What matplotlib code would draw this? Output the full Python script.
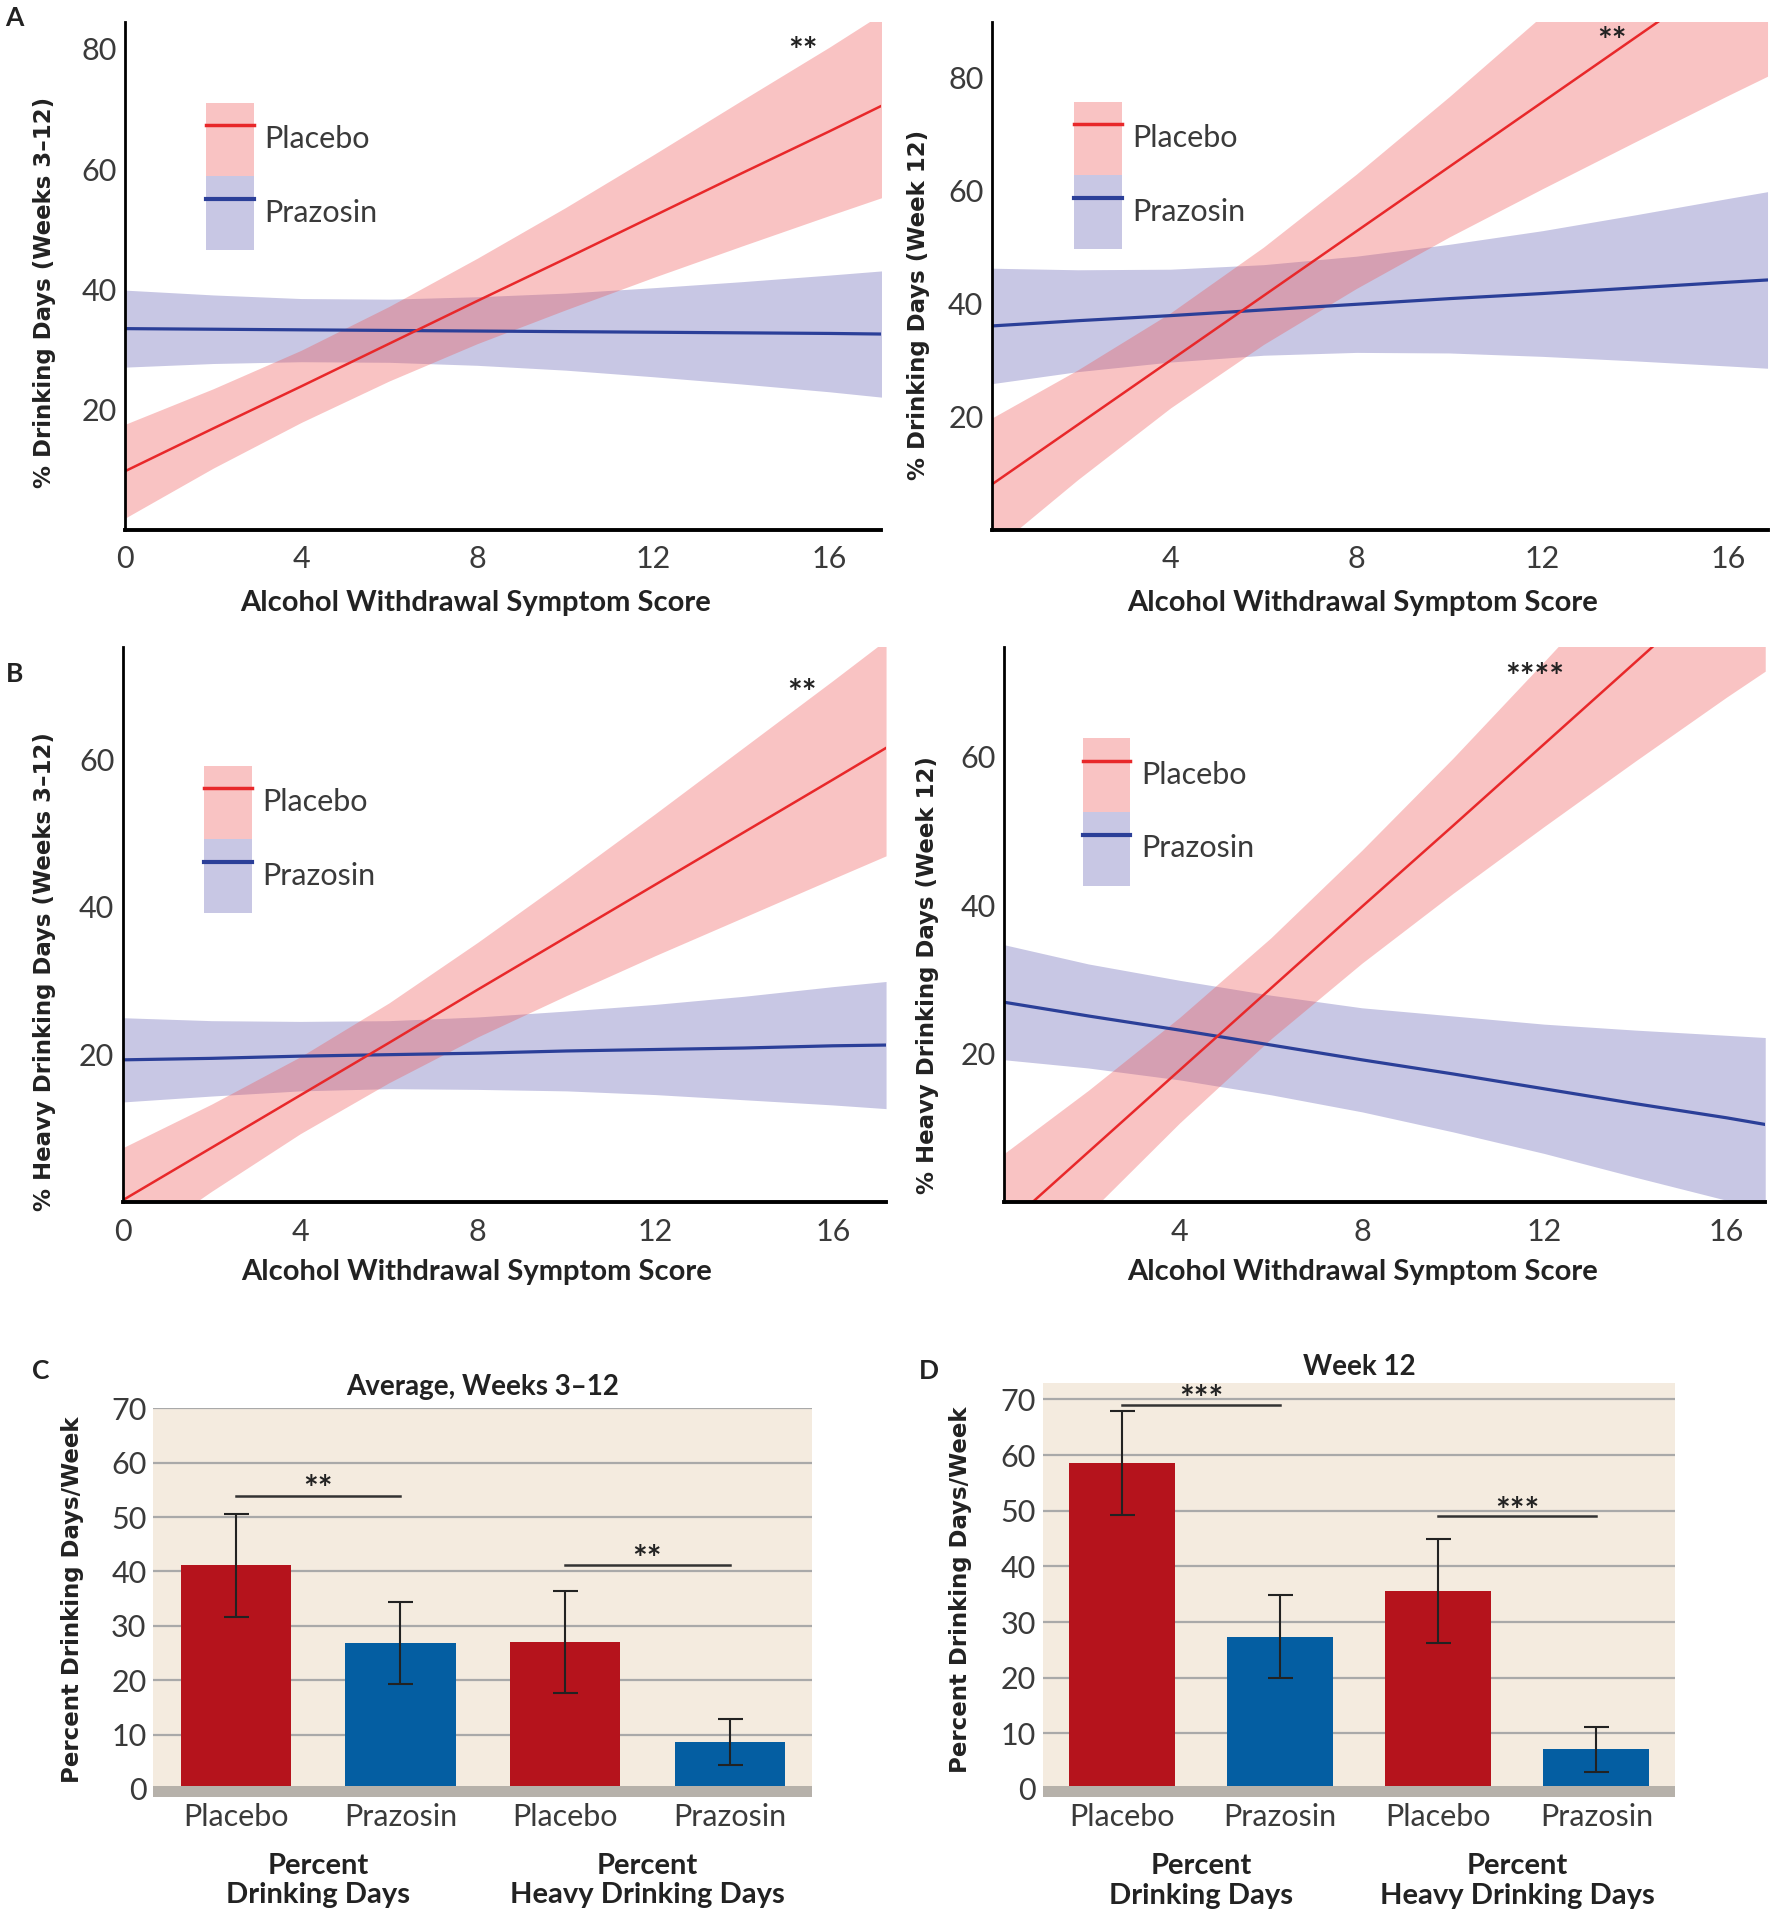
import matplotlib
matplotlib.use("Agg")
import matplotlib.pyplot as plt
from matplotlib.patches import Patch
from matplotlib.lines import Line2D

# values
# regression panels: fitted line and 95% band for each group
x_a1 = [0, 2, 4, 6, 8, 10, 12, 14, 16, 17.2]
x_a2 = [0, 2, 4, 6, 8, 10, 12, 14, 16, 16.85]

a1_plac_fit = [9.8, 16.9, 23.9, 31.0, 38.1, 45.1, 52.2, 59.3, 66.3, 70.6]
a1_plac_lo = [2.0, 10.3, 17.9, 24.8, 31.0, 36.6, 42.0, 47.2, 52.3, 55.3]
a1_plac_hi = [17.6, 23.5, 29.9, 37.2, 45.2, 53.6, 62.4, 71.4, 80.3, 85.9]
a1_praz_fit = [33.5, 33.4, 33.3, 33.2, 33.1, 33.0, 32.9, 32.8, 32.7, 32.6]
a1_praz_lo = [27.1, 27.7, 28.0, 27.9, 27.4, 26.6, 25.5, 24.3, 23.0, 22.1]
a1_praz_hi = [39.9, 39.1, 38.5, 38.4, 38.8, 39.4, 40.3, 41.3, 42.4, 43.1]

a2_plac_fit = [7.2, 18.6, 30.0, 41.4, 52.8, 64.2, 75.6, 87.0, 98.4, 103.2]
a2_plac_lo = [-4.7, 8.9, 21.6, 32.8, 42.7, 51.8, 60.3, 68.6, 76.8, 80.2]
a2_plac_hi = [19.1, 28.3, 38.4, 50.0, 62.9, 76.6, 90.9, 105.4, 120.0, 126.2]
a2_praz_fit = [36.0, 37.0, 37.9, 38.9, 39.9, 40.9, 41.8, 42.8, 43.8, 44.2]
a2_praz_lo = [25.7, 28.0, 29.7, 30.9, 31.4, 31.3, 30.7, 29.9, 29.0, 28.6]
a2_praz_hi = [46.3, 46.0, 46.1, 46.9, 48.4, 50.5, 52.9, 55.7, 58.6, 59.8]

b1_plac_fit = [0.3, 7.4, 14.5, 21.6, 28.8, 35.9, 43.0, 50.1, 57.2, 61.5]
b1_plac_lo = [-6.8, 1.5, 9.3, 16.2, 22.4, 28.0, 33.4, 38.6, 43.8, 46.9]
b1_plac_hi = [7.4, 13.3, 19.7, 27.0, 35.2, 43.8, 52.6, 61.6, 70.6, 76.1]
b1_praz_fit = [19.3, 19.5, 19.8, 20.0, 20.2, 20.5, 20.7, 20.9, 21.2, 21.3]
b1_praz_lo = [13.6, 14.4, 15.1, 15.4, 15.3, 15.1, 14.6, 13.9, 13.2, 12.7]
b1_praz_hi = [25.0, 24.6, 24.5, 24.6, 25.1, 25.9, 26.8, 27.9, 29.2, 29.9]

b2_plac_fit = [-4.2, 6.8, 17.8, 28.8, 39.8, 50.7, 61.7, 72.7, 83.7, 88.3]
b2_plac_lo = [-14.3, -1.5, 10.7, 22.0, 32.2, 41.6, 50.6, 59.4, 68.0, 71.5]
b2_plac_hi = [5.9, 15.1, 24.9, 35.6, 47.4, 59.8, 72.8, 86.0, 99.4, 105.1]
b2_praz_fit = [27.1, 25.1, 23.2, 21.2, 19.2, 17.3, 15.3, 13.3, 11.4, 10.5]
b2_praz_lo = [19.3, 18.1, 16.5, 14.5, 12.2, 9.5, 6.6, 3.4, 0.3, -1.2]
b2_praz_hi = [34.9, 32.1, 29.9, 27.9, 26.2, 25.1, 24.0, 23.2, 22.5, 22.2]

# bar panels
bar_labels = ["Placebo", "Prazosin", "Placebo", "Prazosin"]
group_labels = ["Percent\nDrinking Days", "Percent\nHeavy Drinking Days"]
c_means = [41.1, 26.8, 27.0, 8.6]
c_err = [9.4, 7.5, 9.4, 4.2]
d_means = [58.6, 27.4, 35.6, 7.1]
d_err = [9.4, 7.5, 9.4, 4.1]
c_sig_y = [53.9, 41.2]
c_star_y = [55.0, 42.1]
c_sig_txt = ["**", "**"]
d_sig_y = [69.0, 49.1]
d_star_y = [69.9, 49.8]
d_sig_txt = ["***", "***"]

RED = "#e8282a"
BLUE = "#2b3f98"
PINK = "#ee5555"
PURP = "#4a46a8"
BAR_RED = "#b5131c"
BAR_BLUE = "#045ea2"
BEIGE = "#f4ebdf"
TICKCOL = "#3a3a3a"

BOLDFONT = dict(family="Lato", weight="bold")
YFONT = dict(family="DejaVu Sans", weight="bold")

fig = plt.figure(figsize=(17.7, 19.2), dpi=100)


def fit_panel(rect, x, pf, pl, ph, zf, zl, zh, xlim, ylim, xticks, yticks, ylabel,
              ylab_pos, xlab_pos, leg_pos, star_xy, star_txt):
    ax = fig.add_axes(rect)
    ax.fill_between(x, zl, zh, color=PURP, alpha=0.3, lw=0)
    ax.fill_between(x, pl, ph, color=PINK, alpha=0.35, lw=0)
    ax.plot(x, zf, color=BLUE, lw=2.3)
    ax.plot(x, pf, color=RED, lw=1.8)
    ax.set_xticks(xticks)
    ax.set_yticks(yticks)
    ax.set_xlim(xlim)
    ax.set_ylim(ylim)
    for s in ["top", "right"]:
        ax.spines[s].set_visible(False)
    ax.spines["left"].set_linewidth(2.0)
    ax.spines["bottom"].set_linewidth(2.8)
    ax.tick_params(axis="both", length=0, labelsize=22, labelcolor=TICKCOL)
    ax.tick_params(axis="x", pad=11)
    ax.tick_params(axis="y", pad=6)
    for lab in ax.get_xticklabels() + ax.get_yticklabels():
        lab.set_family("Lato")
    ax.set_xlabel("Alcohol Withdrawal Symptom Score", fontsize=21, color="#222222", **BOLDFONT)
    ax.xaxis.set_label_coords(*xlab_pos)
    ax.set_ylabel(ylabel, fontsize=16.5, color="#222222", **YFONT)
    ax.yaxis.set_label_coords(*ylab_pos)
    handles = [(Patch(color=PINK, alpha=0.35, lw=0), Line2D([], [], color=RED, lw=2.5)),
               (Patch(color=PURP, alpha=0.3, lw=0), Line2D([], [], color=BLUE, lw=3))]
    leg = ax.legend(handles, ["Placebo", "Prazosin"], loc="upper left",
                    bbox_to_anchor=leg_pos, frameon=False, borderpad=0,
                    borderaxespad=0, labelspacing=0, handlelength=1.57,
                    handleheight=3.33, handletextpad=0.35,
                    prop=dict(family="Lato", size=22))
    for t in leg.get_texts():
        t.set_color(TICKCOL)
    ax.text(star_xy[0], star_xy[1], star_txt, ha="center", va="center",
            fontsize=25, color="#222222", **BOLDFONT)
    return ax


fit_panel([0.0707, 0.7239, 0.4272, 0.2647], x_a1,
          a1_plac_fit, a1_plac_lo, a1_plac_hi, a1_praz_fit, a1_praz_lo, a1_praz_hi,
          (0, 17.18), (0, 84.5), [0, 4, 8, 12, 16], [20, 40, 60, 80],
          "% Drinking Days (Weeks 3\u201312)",
          (-0.091, 0.467), (0.464, -0.118), (0.107, 0.841), (15.4, 79.5), "**")
fit_panel([0.5603, 0.7239, 0.4383, 0.2647], x_a2,
          a2_plac_fit, a2_plac_lo, a2_plac_hi, a2_praz_fit, a2_praz_lo, a2_praz_hi,
          (0.15, 16.85), (0, 89.8), [4, 8, 12, 16], [20, 40, 60, 80],
          "% Drinking Days (Week 12)",
          (-0.079, 0.443), (0.478, -0.118), (0.106, 0.843), (13.5, 86.2), "**")
fit_panel([0.0693, 0.3737, 0.4313, 0.2895], x_a1,
          b1_plac_fit, b1_plac_lo, b1_plac_hi, b1_praz_fit, b1_praz_lo, b1_praz_hi,
          (0, 17.2), (0, 75.2), [0, 4, 8, 12, 16], [20, 40, 60],
          "% Heavy Drinking Days (Weeks 3\u201312)",
          (-0.087, 0.416), (0.463, -0.101), (0.106, 0.786), (15.3, 68.8), "**")
fit_panel([0.5673, 0.3737, 0.4300, 0.2895], x_a2,
          b2_plac_fit, b2_plac_lo, b2_plac_hi, b2_praz_fit, b2_praz_lo, b2_praz_hi,
          (0.15, 16.85), (0, 74.8), [4, 8, 12, 16], [20, 40, 60],
          "% Heavy Drinking Days (Week 12)",
          (-0.085, 0.41), (0.471, -0.101), (0.103, 0.835), (11.8, 70.6), "****")

group_y = {False: -0.215, True: -0.202}


def bar_panel(rect, means, errs, ytop, title, title_pad, sig_y, star_y, sig_txt, ylab_pos):
    ax = fig.add_axes(rect)
    ax.set_facecolor(BEIGE)
    pos = list(range(len(means)))
    cols = [BAR_RED, BAR_BLUE, BAR_RED, BAR_BLUE]
    ax.bar(pos, means, width=0.67, color=cols, zorder=2)
    ax.errorbar(pos, means, yerr=errs, fmt="none", ecolor="#222222",
                elinewidth=1.5, capsize=9, capthick=1.5, zorder=4)
    ax.axhspan(-1.5, 0.6, color="#b6b1aa", lw=0, zorder=3)
    ax.set_yticks(range(0, 80, 10))
    ax.set_xticks(pos)
    ax.set_xticklabels(bar_labels)
    ax.set_xlim(-0.5, 3.5)
    ax.set_ylim(-1.5, ytop)
    ax.yaxis.grid(True, color="#a9a9a9", lw=1.6, zorder=1)
    ax.set_axisbelow(True)
    for s in ax.spines.values():
        s.set_visible(False)
    ax.tick_params(axis="both", length=0, labelsize=22, labelcolor=TICKCOL)
    ax.tick_params(axis="x", pad=4)
    ax.tick_params(axis="y", pad=5)
    for lab in ax.get_xticklabels() + ax.get_yticklabels():
        lab.set_family("Lato")
    for i in range(2):
        x0, x1 = 2 * i, 2 * i + 1
        ax.plot([x0, x1], [sig_y[i], sig_y[i]], color="#333333", lw=1.8, zorder=5)
        ax.text((x0 + x1) / 2, star_y[i], sig_txt[i], ha="center", va="center",
                fontsize=25, color="#222222", **BOLDFONT)
        ax.text((x0 + x1) / 2, group_y[rect[3] > 0.21], group_labels[i],
                transform=ax.get_xaxis_transform(), ha="center", va="center",
                fontsize=21, linespacing=1.15, color="#222222", **BOLDFONT)
    ax.set_title(title, fontsize=20, pad=title_pad, color="#222222", **BOLDFONT)
    ax.set_ylabel("Percent Drinking Days/Week", fontsize=16.5, color="#222222", **YFONT)
    ax.yaxis.set_label_coords(*ylab_pos)
    return ax


bar_panel([0.0867, 0.0640, 0.3721, 0.2028], c_means, c_err, 70.1,
          "Average, Weeks 3\u201312", 9, c_sig_y, c_star_y, c_sig_txt, (-0.106, 0.508))
bar_panel([0.5891, 0.0639, 0.3575, 0.2156], d_means, d_err, 72.9,
          "Week 12", 6, d_sig_y, d_star_y, d_sig_txt, (-0.1115, 0.502))

for lab, x, y in [("A", 0.0083, 0.9904), ("B", 0.0083, 0.6492),
                  ("C", 0.0229, 0.2857), ("D", 0.525, 0.2857)]:
    fig.text(x, y, lab, ha="center", va="center", fontsize=19, color="#222222", **BOLDFONT)

fig.savefig("out.png", dpi=100, facecolor="white")
